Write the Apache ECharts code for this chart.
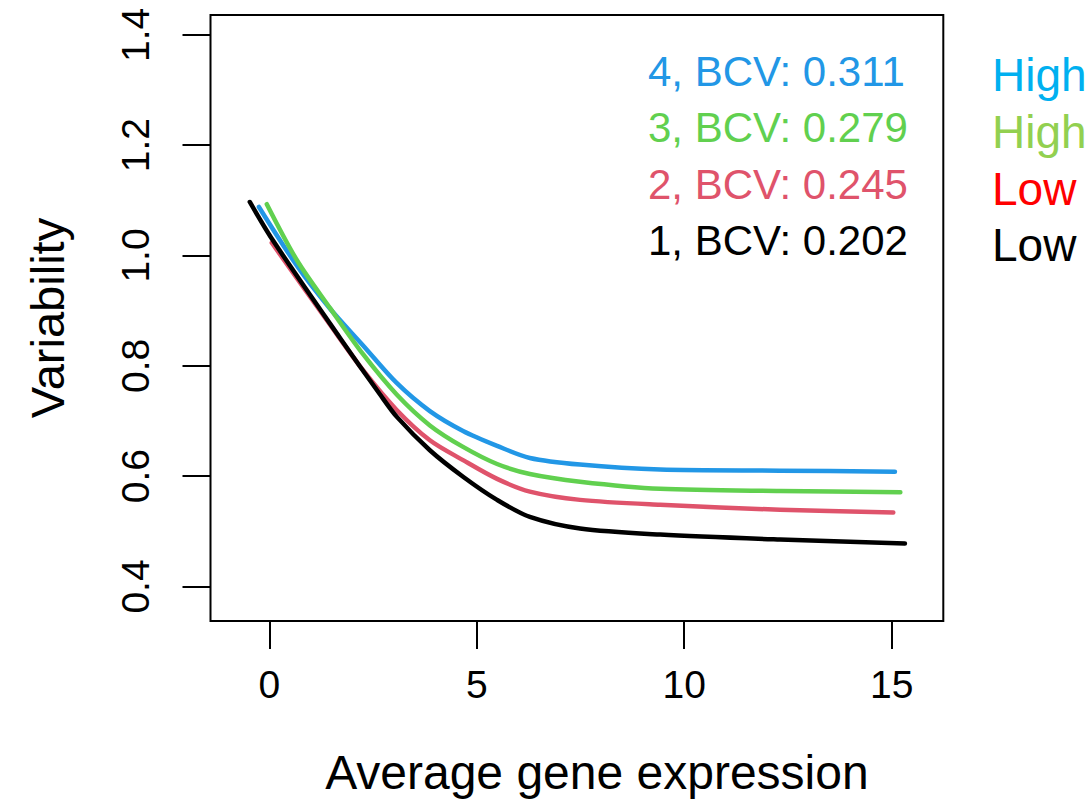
<!DOCTYPE html>
<html>
<head>
<meta charset="utf-8">
<title>Variability vs average gene expression</title>
<script src="https://cdn.jsdelivr.net/npm/echarts@6/dist/echarts.min.js"></script>
<style>
  html, body { margin: 0; padding: 0; background: #ffffff; }
  #chart { width: 1087px; height: 801px; }
</style>
</head>
<body>
<div id="chart"></div>
<script>
// Groups and their biological coefficient of variation
const groups = ['1', '2', '3', '4'];
const bcv = [0.202, 0.245, 0.279, 0.311];
const levelLabels = ['Low', 'Low', 'High', 'High'];

// Trend of variability against average expression, one array per group: [x, y]
const trend1 = [[-0.47, 1.097], [0.09, 1.027], [1.70, 0.851], [2.67, 0.748], [3.08, 0.707], [3.87, 0.647], [4.67, 0.599], [5.49, 0.557], [6.28, 0.526], [7.49, 0.505], [9.42, 0.494], [12.31, 0.485], [15.32, 0.478]];
const trend2 = [[0.06, 1.023], [1.46, 0.875], [2.26, 0.792], [3.07, 0.720], [3.87, 0.665], [4.67, 0.629], [5.49, 0.595], [6.28, 0.572], [7.49, 0.557], [9.42, 0.548], [12.31, 0.539], [15.04, 0.534]];
const trend3 = [[-0.06, 1.093], [0.67, 0.991], [1.46, 0.905], [2.26, 0.821], [3.07, 0.748], [3.87, 0.692], [4.67, 0.653], [5.49, 0.622], [6.28, 0.604], [7.49, 0.590], [9.42, 0.577], [12.31, 0.573], [15.21, 0.571]];
const trend4 = [[-0.25, 1.088], [0.67, 0.981], [1.46, 0.904], [2.26, 0.837], [3.07, 0.769], [3.87, 0.718], [4.67, 0.682], [5.49, 0.655], [6.28, 0.633], [7.49, 0.621], [9.42, 0.612], [12.31, 0.610], [15.08, 0.608]];
const trends = [trend1, trend2, trend3, trend4];

// Tick positions
const xTicks = [0, 5, 10, 15];
const yTicks = [0.4, 0.6, 0.8, 1.0, 1.2, 1.4];

const lineColors = ['#000000', '#DF536B', '#61D04F', '#2297E6'];
const levelColors = ['#000000', '#FF0000', '#92D050', '#00B0F0'];
const FONT = '"Liberation Sans", Arial, Helvetica, sans-serif';

const chart = echarts.init(document.getElementById('chart'), null, { renderer: 'svg' });

const series = groups.map((g, i) => ({
  name: g + ', BCV: ' + bcv[i].toFixed(3),
  type: 'line',
  data: trends[i],
  showSymbol: false,
  smooth: 0.3,
  z: 10 - i,
  lineStyle: { color: lineColors[i], width: 4.5, cap: 'round', join: 'round' },
  itemStyle: { color: lineColors[i] },
  emphasis: { disabled: true }
}));

// Legend text, drawn top to bottom from the last group to the first
const legendText = [];
const rowY = [74.5, 131, 188, 244];
for (let r = 0; r < groups.length; r++) {
  const i = groups.length - 1 - r;
  legendText.push({
    type: 'text', left: 648, top: rowY[r] - 42 * 0.58, silent: true,
    style: {
      text: groups[i] + ', BCV: ' + bcv[i].toFixed(3),
      fill: lineColors[i], font: '42px ' + FONT
    }
  });
  legendText.push({
    type: 'text', left: 992, top: rowY[r] + 4.5 - 46 * 0.58, silent: true,
    style: {
      text: levelLabels[i],
      fill: levelColors[i], font: '46px ' + FONT
    }
  });
}

chart.setOption({
  animation: false,
  backgroundColor: '#ffffff',
  textStyle: { fontFamily: FONT },
  grid: {
    left: 210.5, top: 15, width: 732.8, height: 609,
    show: true, borderColor: '#000000', borderWidth: 2, backgroundColor: 'transparent'
  },
  xAxis: {
    type: 'value', min: -1.417, max: 16.245,
    name: 'Average gene expression', nameLocation: 'middle', nameGap: 127,
    nameTextStyle: { fontSize: 48, color: '#000000', fontFamily: FONT, padding: [0, 0, 0, 40] },
    axisLine: { show: false, onZero: false },
    splitLine: { show: false },
    axisTick: { show: true, customValues: xTicks, length: 28, lineStyle: { color: '#000000', width: 2 } },
    axisLabel: { customValues: xTicks, margin: 44, fontSize: 39, color: '#000000', fontFamily: FONT }
  },
  yAxis: {
    type: 'value', min: 0.3374, max: 1.436,
    name: 'Variability', nameLocation: 'middle', nameGap: 140, nameRotate: 90,
    nameTextStyle: { fontSize: 47, color: '#000000', fontFamily: FONT },
    axisLine: { show: false, onZero: false },
    splitLine: { show: false },
    axisTick: { show: true, customValues: yTicks, length: 28, lineStyle: { color: '#000000', width: 2 } },
    axisLabel: {
      customValues: yTicks, rotate: 90, margin: 56, fontSize: 39, color: '#000000', fontFamily: FONT,
      formatter: v => v.toFixed(1)
    }
  },
  graphic: legendText,
  series: series
});
</script>
</body>
</html>
